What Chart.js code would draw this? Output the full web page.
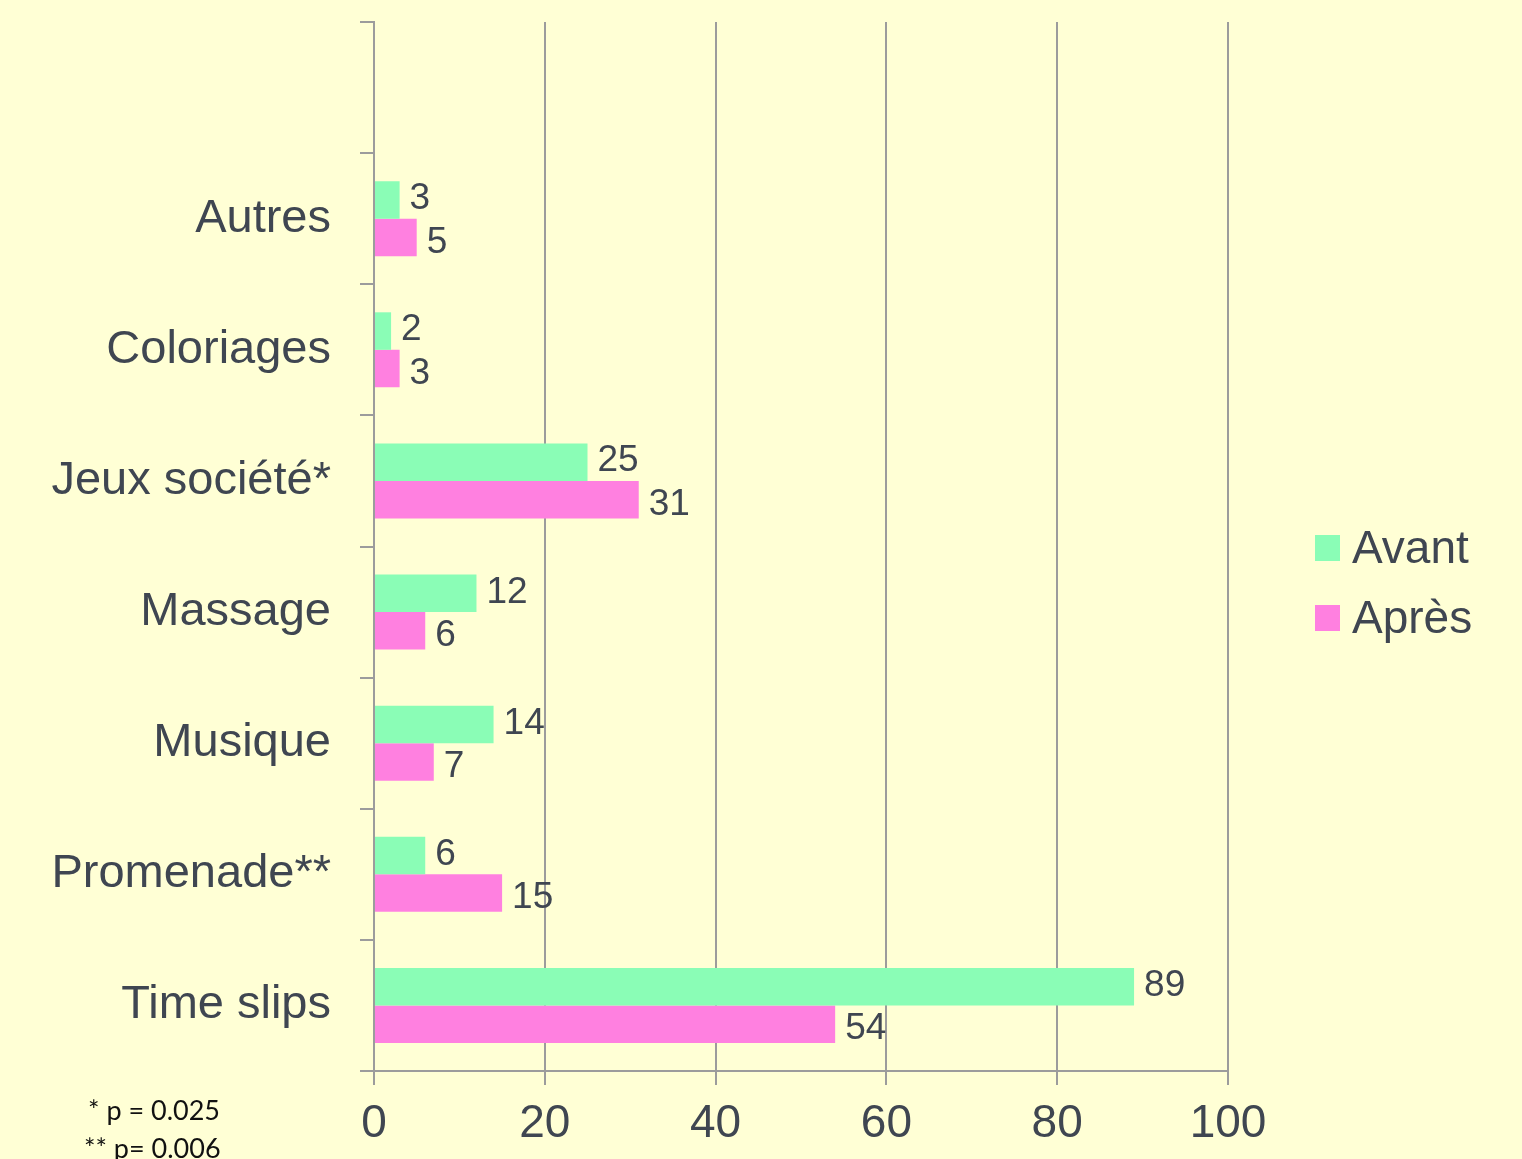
<!DOCTYPE html>
<html>
<head>
<meta charset="utf-8">
<script src="https://cdn.jsdelivr.net/npm/chart.js@4"></script>
<style>
  html, body { margin: 0; padding: 0; background: #FFFFD5; }
  .wrap { position: relative; width: 1522px; height: 1159px; overflow: hidden; }
  .note { position: absolute; font-family: Lato, "Open Sans", sans-serif; font-size: 27px; color: #111; white-space: nowrap; }
</style>
</head>
<body>
<div class="wrap">
  <canvas id="grafic" width="1522" height="1159"></canvas>
  <div class="note" style="left:88px; top:1093px;">* p = 0.025</div>
  <div class="note" style="left:84px; top:1131px;">** p= 0.006</div>
</div>
<script>
// activites, de haut en bas (premiere ligne vide comme dans l'original)
const categories = ['', 'Autres', 'Coloriages', 'Jeux société*', 'Massage', 'Musique', 'Promenade**', 'Time slips'];
const avant = [null, 3, 2, 25, 12, 14, 6, 89];
const apres = [null, 5, 3, 31, 6, 7, 15, 54];
const xTicks = [0, 20, 40, 60, 80, 100];

const couleurTexte = '#3F4651';
const couleurGrille = '#9C9C9C';
const police = '"Liberation Sans", Arial, sans-serif';

// fond jaune pale
const fond = {
  id: 'fond',
  beforeDraw(chart) {
    const ctx = chart.ctx;
    ctx.save();
    ctx.fillStyle = '#FFFFD5';
    ctx.fillRect(0, 0, chart.width, chart.height);
    ctx.restore();
  }
};

// valeurs au bout des barres (un peu decalees vers le haut / le bas)
const decalage = [-2, 4];
const valeurs = {
  id: 'valeurs',
  afterDatasetsDraw(chart) {
    const ctx = chart.ctx;
    ctx.save();
    ctx.font = '37px ' + police;
    ctx.fillStyle = couleurTexte;
    ctx.textAlign = 'left';
    ctx.textBaseline = 'middle';
    chart.data.datasets.forEach((ds, i) => {
      chart.getDatasetMeta(i).data.forEach((bar, j) => {
        const v = ds.data[j];
        if (v === null) return;
        ctx.fillText(String(v), bar.x + 10, bar.y + 1 + decalage[i]);
      });
    });
    ctx.restore();
  }
};

// legende a droite
const legende = {
  id: 'legende',
  afterDraw(chart) {
    const ctx = chart.ctx;
    const x = chart.chartArea.right + 87;
    const y0 = 548;
    ctx.save();
    ctx.font = '46px ' + police;
    ctx.textBaseline = 'middle';
    chart.data.datasets.forEach((ds, i) => {
      const y = y0 + i * 70;
      ctx.fillStyle = ds.backgroundColor;
      ctx.fillRect(x, y - 13, 25, 26);
      ctx.fillStyle = couleurTexte;
      ctx.fillText(ds.label, x + 37, y + 2);
    });
    ctx.restore();
  }
};

new Chart(document.getElementById('grafic'), {
  type: 'bar',
  data: {
    labels: categories,
    datasets: [
      { label: 'Avant', data: avant, backgroundColor: '#8AFDB6' },
      { label: 'Après', data: apres, backgroundColor: '#FF80E0' }
    ]
  },
  options: {
    indexAxis: 'y',
    responsive: false,
    animation: false,
    categoryPercentage: 0.572,
    barPercentage: 1.0,
    layout: { padding: { top: 22, right: 294, bottom: 0, left: 0 } },
    plugins: { legend: { display: false }, tooltip: { enabled: false } },
    scales: {
      x: {
        min: 0,
        max: 100,
        afterBuildTicks: (s) => { s.ticks = xTicks.map((v) => ({ value: v })); },
        afterFit: (s) => { s.height = 88; s.paddingLeft = 0; s.paddingRight = 0; },
        ticks: { color: couleurTexte, font: { family: police, size: 46 }, padding: 12, maxRotation: 0 },
        grid: { color: couleurGrille, lineWidth: 2, tickLength: 14 },
        border: { color: couleurGrille, width: 2 }
      },
      y: {
        afterFit: (s) => { s.width = 374; s.paddingTop = 0; s.paddingBottom = 0; },
        ticks: { color: couleurTexte, font: { family: police, size: 47 }, padding: 29 },
        grid: { color: couleurGrille, lineWidth: 2, tickLength: 14, drawOnChartArea: false, offset: true },
        border: { color: couleurGrille, width: 2 }
      }
    }
  },
  plugins: [fond, valeurs, legende]
});
</script>
</body>
</html>
